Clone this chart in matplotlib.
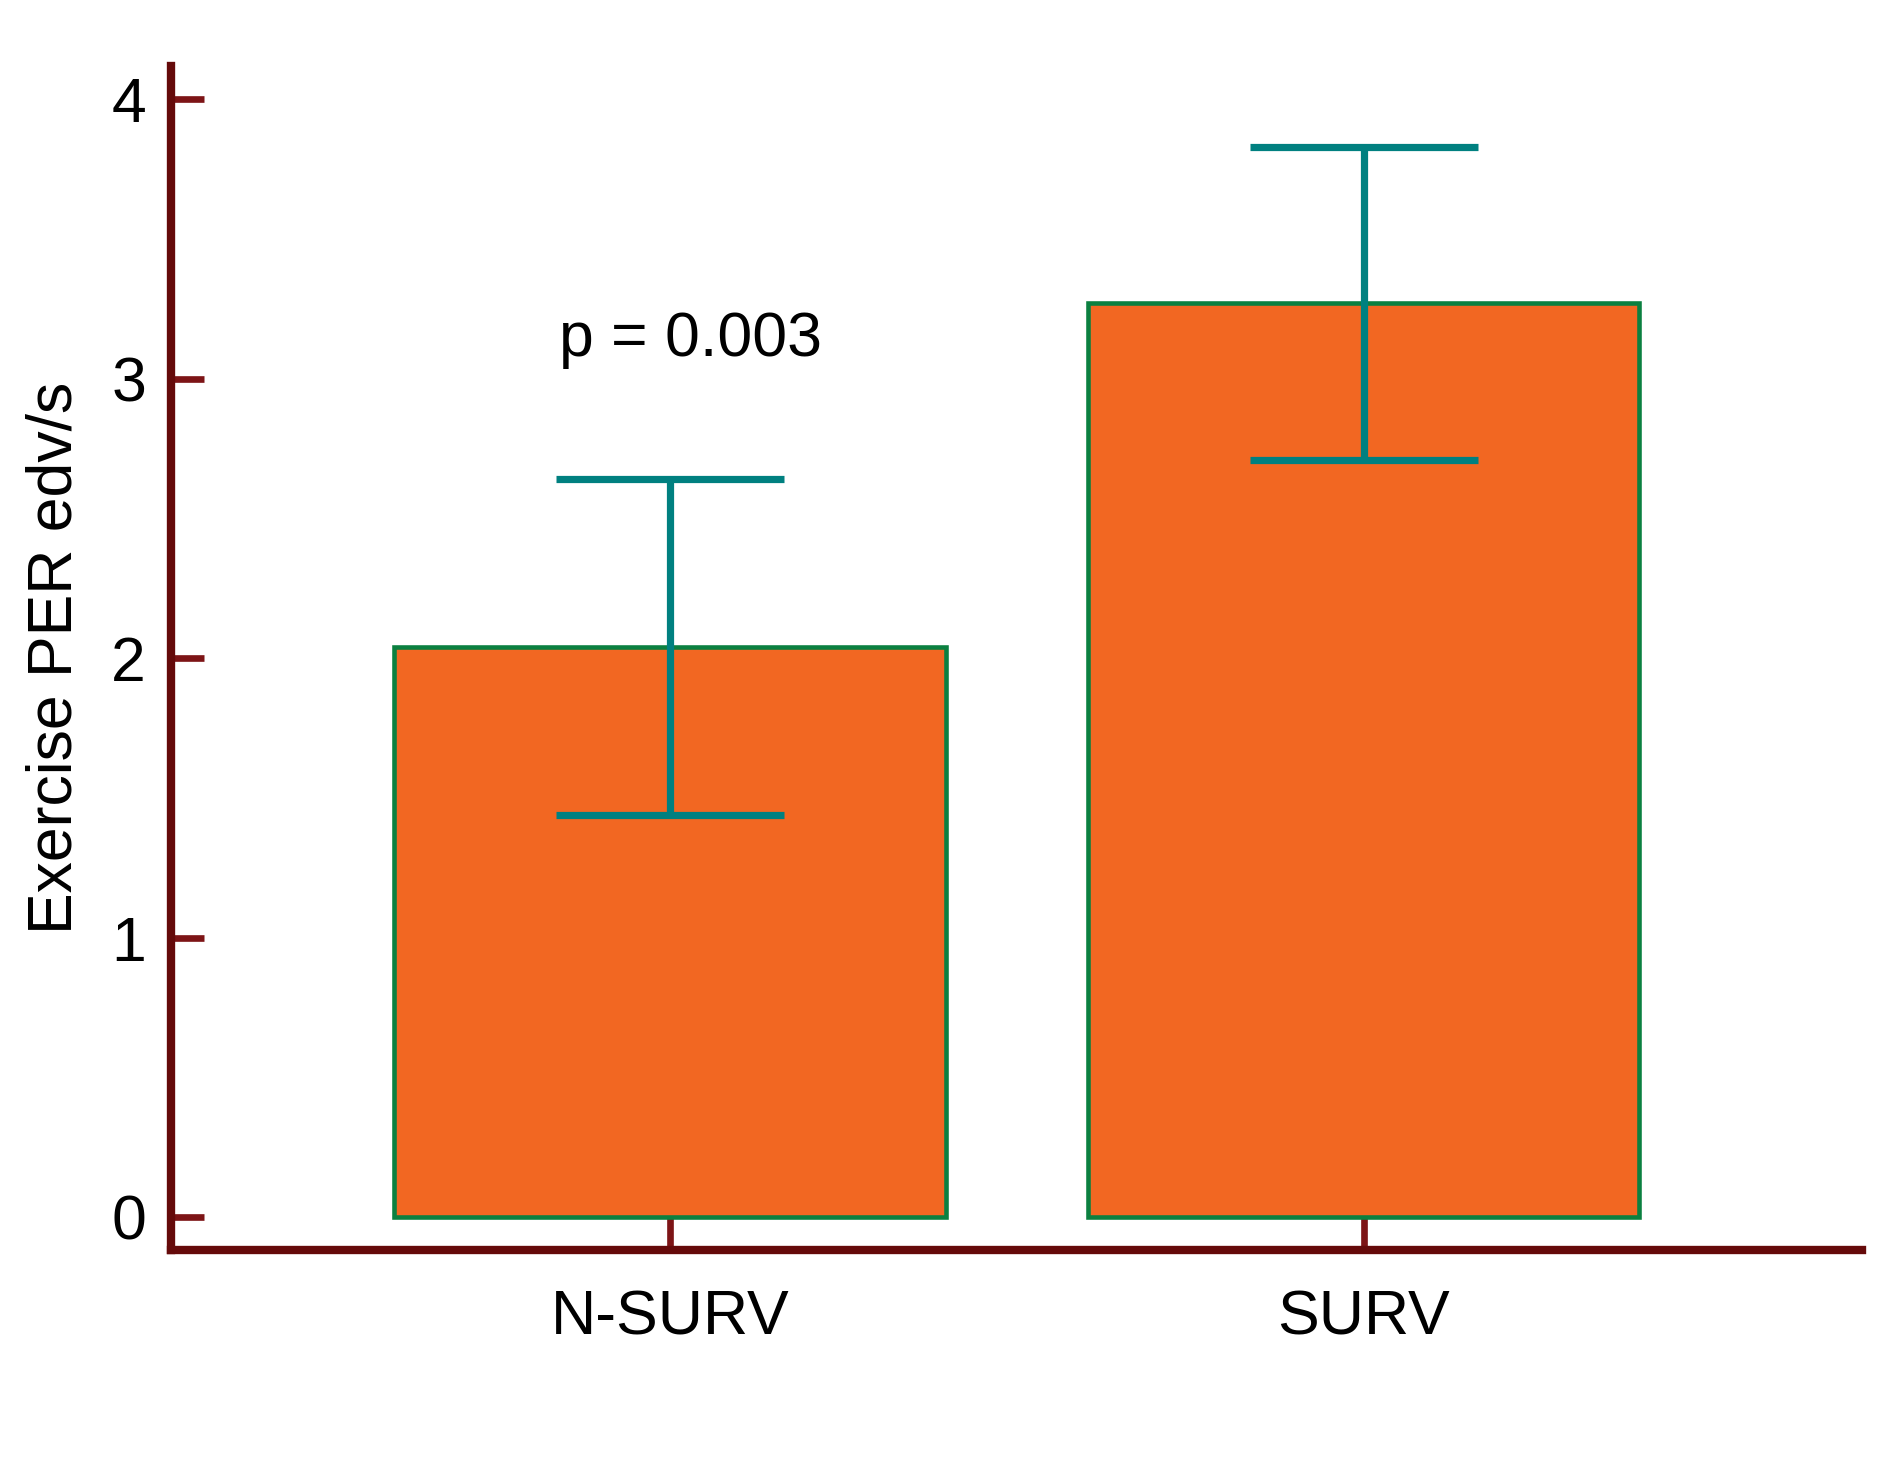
import matplotlib
matplotlib.use("Agg")
import matplotlib.pyplot as plt

categories = ["N-SURV", "SURV"]
means = [2.04, 3.27]
errors = [0.60, 0.56]
yticks = [0, 1, 2, 3, 4]
annotation = "p = 0.003"
ylabel = "Exercise PER edv/s"

plt.rcParams['font.family'] = ['Liberation Sans', 'DejaVu Sans']

fig = plt.figure(figsize=(18.9, 14.65), dpi=100)
ax = fig.add_axes([0.0905, 0.1468, 0.8945, 0.8082])

x = list(range(len(categories)))
ax.bar(x, means, width=0.795, color="#f26722", edgecolor="#0b8040", linewidth=3.3, zorder=2)
ax.errorbar(x, means, yerr=errors, fmt="none", ecolor="#008080", elinewidth=5.2,
            capsize=82, capthick=5.2, zorder=3)

ax.set_xlim(-0.719, 1.718)
ax.set_ylim(-0.118, 4.12)
ax.set_xticks(x)
ax.set_xticklabels(categories)
ax.set_yticks(yticks)
ax.set_yticklabels([str(t) for t in yticks])

for s in ["top", "right"]:
    ax.spines[s].set_visible(False)
for s in ["left", "bottom"]:
    ax.spines[s].set_color("#650a0a")
    ax.spines[s].set_linewidth(6)

ax.tick_params(axis="both", direction="in", length=24, width=4.8, color="#7d1416",
               labelsize=45, labelcolor="black")
ax.tick_params(axis="x", pad=28)
ax.tick_params(axis="y", pad=18)

ax.set_ylabel(ylabel, fontsize=45, labelpad=19)
ax.text(-0.16, 3.14, annotation, fontsize=45, ha="left", va="center")

fig.savefig("out.png", dpi=100, facecolor="white")
